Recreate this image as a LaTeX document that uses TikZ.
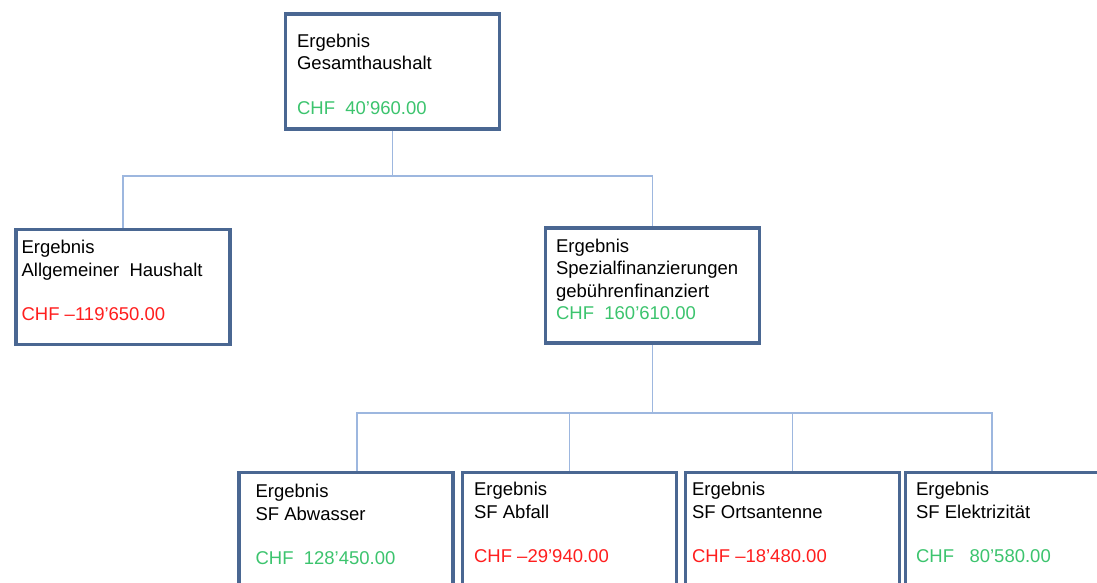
\documentclass[tikz,border=0pt]{standalone}
\usepackage{fontspec}
\setmainfont{Liberation Sans}
\definecolor{boxblue}{HTML}{4A6792}
\definecolor{linkblue}{HTML}{9DB7DF}
\definecolor{plusgreen}{HTML}{3CC46E}
\definecolor{minusred}{HTML}{FF1E1E}
\tikzset{
  box/.style={draw=boxblue, line width=2.2pt, fill=white, inner sep=0pt,
    minimum width=213pt, minimum height=114pt},
  txt/.style={anchor=north west, inner sep=0pt, align=left,
    font=\fontsize{18.5}{22.5}\selectfont},
  link/.style={draw=linkblue, line width=1.6pt}
}
\begin{document}
\begin{tikzpicture}[x=1pt, y=-1pt]
\clip (0,0) rectangle (1097,582);
\fill[white] (0,0) rectangle (1097,582);

% connectors
\node[box] (gesamt) at (392.5,71.5) {};
\node[box] (allg) at (123,287) {};
\node[box] (spezial) at (652.5,285.5) {};
\draw[link] (gesamt.south) -- ++(0,46.5) -| (allg.north);
\draw[link] (gesamt.south) -- ++(0,46.5) -| (spezial.north);

\node[box] (abwasser) at (346,530) {};
\node[box] (abfall) at (569.5,530) {};
\node[box] (orts) at (792.5,530) {};
\node[box] (elektro) at (1012.5,530) {};
\draw[link] (spezial.south) -- ++(0,69.5) coordinate (sfbar);
\draw[link] (sfbar) -| ([xshift=11pt]abwasser.north);
\draw[link] (sfbar) -| (abfall.north);
\draw[link] (sfbar) -| (orts.north);
\draw[link] (sfbar) -| ([xshift=-20.5pt]elektro.north);

% redraw the boxes over the line ends
\foreach \b in {gesamt,allg,spezial,abwasser,abfall,orts,elektro}
  \draw[boxblue, line width=2.2pt] (\b.north west) rectangle (\b.south east);

% texts
\node[txt] (gesamt-t) at ([shift={(12,20)}]gesamt.north west)
  {Ergebnis\\ Gesamthaushalt\\[22pt] \textcolor{plusgreen}{CHF\ \ 40’960.00}};
\node[txt] (allg-t) at ([shift={(6,11)}]allg.north west)
  {Ergebnis\\ Allgemeiner\ \ Haushalt\\[22pt] \textcolor{minusred}{CHF –119’650.00}};
\node[txt] (spezial-t) at ([shift={(11,11)}]spezial.north west)
  {Ergebnis\\ Spezialfinanzierungen\\ gebührenfinanziert\\ \textcolor{plusgreen}{CHF\ \ 160’610.00}};
\node[txt] (abwasser-t) at ([shift={(17,12)}]abwasser.north west)
  {Ergebnis\\ SF Abwasser\\[22pt] \textcolor{plusgreen}{CHF\ \ 128’450.00}};
\node[txt] (abfall-t) at ([shift={(12,10)}]abfall.north west)
  {Ergebnis\\ SF Abfall\\[22pt] \textcolor{minusred}{CHF –29’940.00}};
\node[txt] (orts-t) at ([shift={(7,10)}]orts.north west)
  {Ergebnis\\ SF Ortsantenne\\[22pt] \textcolor{minusred}{CHF –18’480.00}};
\node[txt] (elektro-t) at ([shift={(11,10)}]elektro.north west)
  {Ergebnis\\ SF Elektrizität\\[22pt] \textcolor{plusgreen}{CHF\ \ \ 80’580.00}};
\end{tikzpicture}
\end{document}
